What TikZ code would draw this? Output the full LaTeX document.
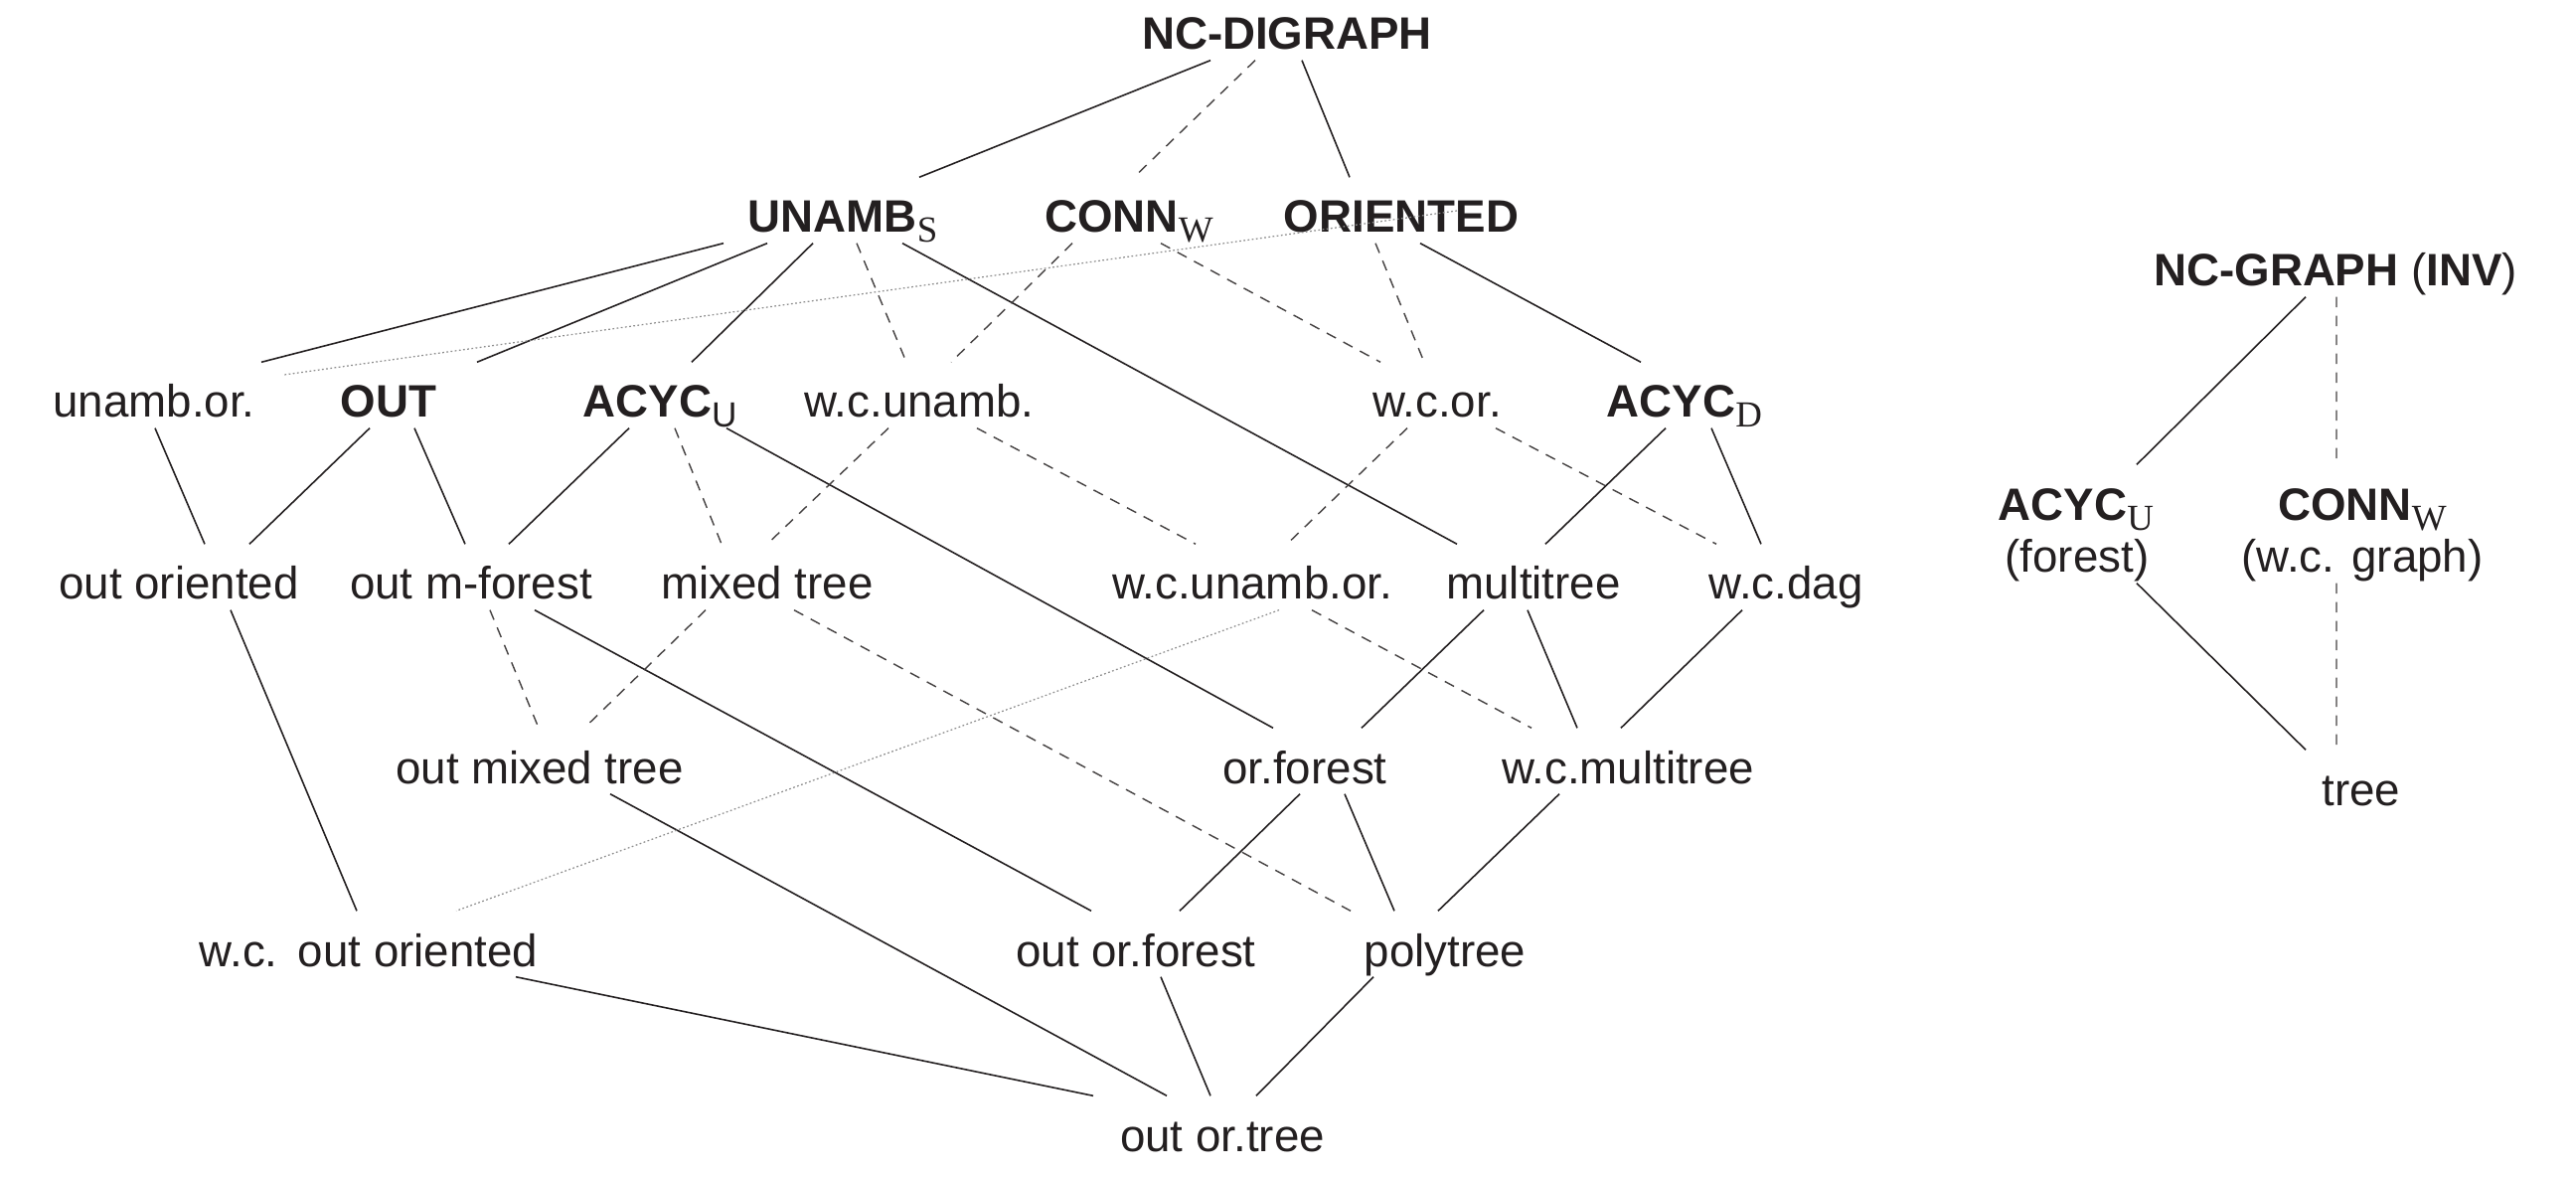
\documentclass[tikz,border=0pt]{standalone}
\usepackage{fontspec}
\setmainfont{Liberation Sans}
\newfontfamily\subserif{Liberation Serif}
\usepackage{tikz}
\definecolor{cInk}{HTML}{231F20}
\definecolor{cDot}{HTML}{8C8C8C}
\newcommand{\serifsub}[1]{\raisebox{-1mm}{\fontsize{10.5}{12}\selectfont\subserif #1}}
\newcommand{\sanssub}[1]{\raisebox{-1mm}{\fontsize{10}{12}\selectfont #1}}

\begin{document}
\begin{tikzpicture}[
    lbl/.style={anchor=base, inner xsep=0pt, inner ysep=1mm, text height=4.5mm,
                text depth=0pt, font=\fontsize{13}{15}\selectfont, text=cInk},
    lnsolid/.style={draw=cInk, line width=0.45pt},
    lndash/.style={draw=cInk!85, line width=0.4pt, dash pattern=on 3pt off 2.4pt},
    lndot/.style={draw=cDot, line width=0.35pt, dash pattern=on 0.5pt off 0.7pt},
  ]
  \useasboundingbox (0, 0) rectangle (25.92, -11.84);

  % digraph classes
  \node[lbl] (ncd)  at (12.95, -0.50) {\textbf{NC-DIGRAPH}};
  \node[lbl] (us)   at (8.48, -2.34)  {\textbf{UNAMB}\serifsub{S}};
  \node[lbl] (cw)   at (11.36, -2.34) {\textbf{CONN}\serifsub{W}};
  \node[lbl] (ori)  at (14.10, -2.34) {\textbf{ORIENTED}};
  \node[lbl] (uo)   at (1.55, -4.20)  {unamb.or.};
  \node[lbl] (out)  at (3.91, -4.20)  {\textbf{OUT}};
  \node[lbl] (au)   at (6.64, -4.20)  {\textbf{ACYC}\sanssub{U}};
  \node[lbl] (wcu)  at (9.25, -4.20)  {w.c.unamb.};
  \node[lbl] (wco)  at (14.46, -4.20) {w.c.or.};
  \node[lbl] (ad)   at (16.95, -4.20) {\textbf{ACYC}\serifsub{D}};
  \node[lbl] (oo)   at (1.80, -6.03)  {out oriented};
  \node[lbl] (omf)  at (4.74, -6.03)  {out m-forest};
  \node[lbl] (mt)   at (7.72, -6.03)  {mixed tree};
  \node[lbl] (wcuo) at (12.60, -6.03) {w.c.unamb.or.};
  \node[lbl] (mlt)  at (15.43, -6.03) {multitree};
  \node[lbl] (wcd)  at (17.97, -6.03) {w.c.dag};
  \node[lbl] (omt)  at (5.43, -7.88)  {out mixed tree};
  \node[lbl] (of)   at (13.13, -7.88) {or.forest};
  \node[lbl] (wcm)  at (16.38, -7.88) {w.c.multitree};
  \node[lbl] (wcoo) at (3.71, -9.72)  {w.c.\ \,out oriented};
  \node[lbl] (oof)  at (11.43, -9.72) {out or.forest};
  \node[lbl] (pt)   at (14.54, -9.72) {polytree};
  \node[lbl] (oot)  at (12.30, -11.58) {out or.tree};

  % graph classes
  \node[lbl] (ncg)  at (23.50, -2.88) {\textbf{NC-GRAPH} (\textbf{INV})};
  \node[lbl] (acu2) at (20.89, -5.23) {\textbf{ACYC}\serifsub{U}};
  \node[lbl] (fo)   at (20.90, -5.76) {(forest)};
  \node[lbl] (cw2)  at (23.77, -5.23) {\textbf{CONN}\serifsub{W}};
  \node[lbl] (wcg)  at (23.77, -5.76) {(w.c. graph)};
  \node[lbl] (tree) at (23.76, -8.10) {tree};

  \foreach \a/\da/\b/\db in {ncd/-0.77/us/0.77, ncd/0.15/ori/-0.52,
      us/-1.20/uo/1.08, us/-0.76/out/0.89, us/-0.30/au/0.32, us/0.60/mlt/-0.77,
      ori/0.19/ad/-0.44, uo/0.01/oo/0.26, out/-0.19/oo/0.71, out/0.26/omf/-0.06,
      au/-0.31/omf/0.38, au/0.67/of/-0.32, ad/-0.19/mlt/0.12, ad/0.27/wcd/-0.25,
      oo/0.52/wcoo/-0.12, omf/0.64/oof/-0.45, mlt/-0.50/of/0.57, mlt/-0.06/wcm/-0.51,
      wcd/-0.44/wcm/-0.07, omt/0.71/oot/-0.56, of/-0.05/oof/0.44, of/0.40/pt/-0.51,
      wcm/-0.69/pt/-0.07, wcoo/1.48/oot/-1.30, oof/0.25/oot/-0.12, pt/-0.72/oot/0.34,
      ncg/-0.30/acu2/0.61, fo/0.60/tree/-0.56}
    \draw[lnsolid] ([xshift=\da cm]\a.south) -- ([xshift=\db cm]\b.north);

  \foreach \a/\da/\b/\db in {ncd/-0.32/cw/0.05, us/0.14/wcu/-0.13,
      cw/-0.57/wcu/0.32, cw/0.32/wco/-0.57, ori/-0.26/wco/-0.13, au/0.15/mt/-0.46,
      wcu/-0.31/mt/0.00, wcu/0.58/wcuo/-0.57, wco/-0.30/wcuo/0.35, wco/0.59/wcd/-0.70,
      omf/0.19/omt/-0.01, mt/-0.62/omt/0.45, mt/0.27/pt/-0.95, wcuo/0.60/wcm/-0.97,
      ncg/0.01/cw2/-0.26, wcg/-0.26/tree/-0.25}
    \draw[lndash] ([xshift=\da cm]\a.south) -- ([xshift=\db cm]\b.north);

  % faint dotted ones
  \draw[lndot] ([xshift=0.56cm, yshift=0.22cm]ori.base) -- ([xshift=1.31cm, yshift=0.43cm]uo.base);
  \draw[lndot] ([xshift=0.27cm]wcuo.south) -- ([xshift=0.88cm]wcoo.north);
\end{tikzpicture}
\end{document}
